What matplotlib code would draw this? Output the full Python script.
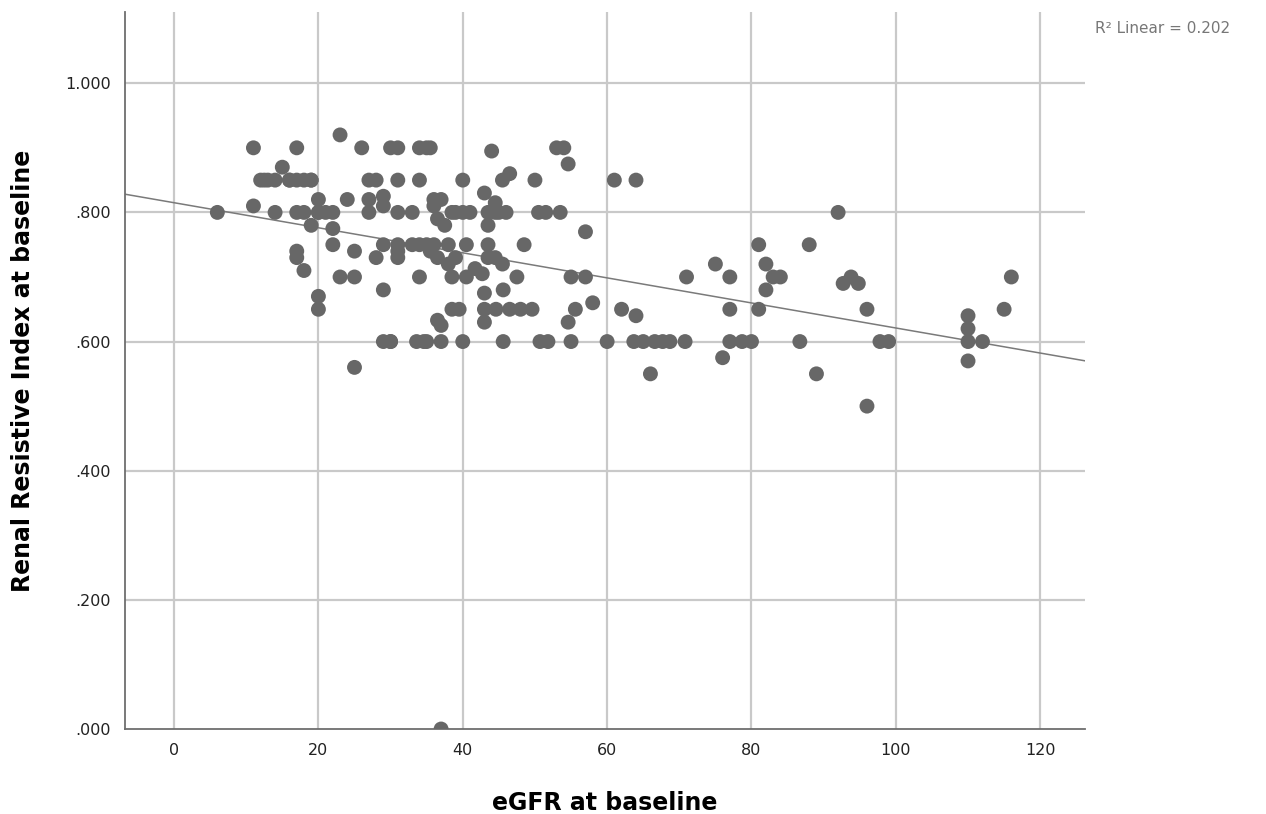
import numpy as np
import matplotlib.pyplot as plt

# eGFR at baseline / renal resistive index
egfr = [6, 11, 11, 12, 13, 14, 14, 15, 16, 17, 17, 17, 17, 17, 18, 18, 18,
        19, 19, 20, 20, 20, 20, 20, 21, 22, 22, 22, 23, 23, 24, 25, 25, 25,
        26, 27, 27, 27, 28, 28, 29, 29, 29, 29, 29, 30, 30, 31, 31, 31, 31, 31, 31,
        33, 33, 34, 34, 34, 34, 35, 35, 35, 35.5, 35.5, 36, 36, 36, 36.5, 36.5,
        36.5, 37, 37, 37, 37.5, 38, 38, 38.5, 38.5, 38.5, 39, 39, 39.5, 40, 40,
        40, 40.5, 40.5, 41, 41.7, 42.7, 43, 43, 43, 43, 43.5, 43.5, 43.5, 43.5,
        44, 44.5, 44.5, 44.5, 44.6, 45, 45.5, 45.5, 45.6, 45.6, 46, 46.5, 46.5,
        47.5, 48, 48.5, 49.6, 50, 50.5, 50.7, 51.5, 51.8, 53, 53.5, 54, 54.6,
        54.6, 55, 55, 55.6, 57, 57, 58, 60, 61, 62, 63.7, 64, 64, 65, 66, 66.6,
        67.7, 68.7, 70.8, 71, 75, 76, 77, 77, 77, 78.7, 80, 81, 81, 82, 82, 83,
        84, 86.7, 88, 89, 92, 92.7, 93.8, 94.8, 96, 96, 97.8, 99, 110, 110, 110,
        110, 112, 115, 116, 37, 16, 19, 12.5, 30, 33.6, 34.6]
rri = [.80, .90, .81, .85, .85, .85, .80, .87, .85, .90, .85, .80, .74, .73,
       .85, .80, .71, .85, .78, .82, .80, .67, .65, .80, .80, .80, .775, .75,
       .92, .70, .82, .74, .70, .56, .90, .85, .82, .80, .85, .73, .825, .81,
       .75, .68, .60, .90, .60, .90, .85, .80, .75, .74, .73, .80, .75, .90,
       .85, .75, .70, .90, .75, .60, .90, .74, .82, .81, .75, .79, .73, .633,
       .82, .625, .60, .78, .72, .75, .80, .70, .65, .80, .73, .65, .85, .80,
       .60, .75, .70, .80, .713, .705, .83, .675, .65, .63, .80, .78, .75, .73,
       .895, .815, .73, .80, .65, .80, .72, .85, .68, .60, .80, .86, .65, .70,
       .65, .75, .65, .85, .80, .60, .80, .60, .90, .80, .90, .875, .63, .70,
       .60, .65, .77, .70, .66, .60, .85, .65, .60, .85, .64, .60, .55, .60,
       .60, .60, .60, .70, .72, .575, .70, .65, .60, .60, .60, .75, .65, .72,
       .68, .70, .70, .60, .75, .55, .80, .69, .70, .69, .65, .50, .60, .60,
       .64, .62, .60, .57, .60, .65, .70, .00, .85, .85, .85, .60, .60, .60]

# fitted line as printed by the original output
fit_intercept = 0.815
fit_slope = -0.00194
r2_text = "R² Linear = 0.202"

x_ticks = [0, 20, 40, 60, 80, 100, 120]
y_ticks = [0.0, 0.2, 0.4, 0.6, 0.8, 1.0]
y_tick_labels = [".000", ".200", ".400", ".600", ".800", "1.000"]

fig = plt.figure(figsize=(12.66, 8.14), dpi=100)
ax = fig.add_axes([0.0987, 0.1044, 0.7583, 0.8806])

xmin, xmax = -6.8, 126.2
ax.set_xlim(xmin, xmax)
ax.set_ylim(0, 1.11)

# grid
for xv in x_ticks:
    ax.axvline(xv, color="#c9c9c9", lw=1.6, zorder=0)
for yv in y_ticks[1:]:
    ax.axhline(yv, color="#c9c9c9", lw=1.6, zorder=0)

xs = np.array([xmin, xmax])
ax.plot(xs, fit_intercept + fit_slope * xs, color="#7a7a7a", lw=1.1, zorder=2)

ax.scatter(egfr, rri, s=115, color="#676767", edgecolors="none", zorder=3,
           clip_on=True)

for s in ["top", "right"]:
    ax.spines[s].set_visible(False)
for s in ["left", "bottom"]:
    ax.spines[s].set_color("#6e6e6e")
    ax.spines[s].set_linewidth(1.3)

ax.set_xticks(x_ticks)
ax.set_yticks(y_ticks)
ax.set_yticklabels(y_tick_labels)
ax.tick_params(length=0, labelsize=11.5, labelcolor="#222222", pad=10)

ax.set_xlabel("eGFR at baseline", fontsize=17, fontweight="bold",
              labelpad=24)
ax.set_ylabel("Renal Resistive Index at baseline", fontsize=17,
              fontweight="bold", labelpad=22)

fig.text(0.9715, 0.965, r2_text, ha="right", va="center", fontsize=11,
         color="#777777")

fig.savefig("out.png", dpi=100)
